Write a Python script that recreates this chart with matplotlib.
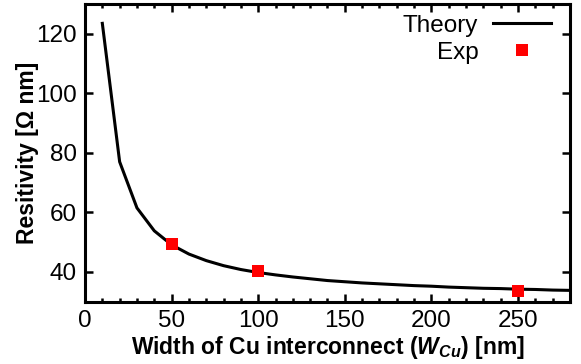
import matplotlib
matplotlib.use("Agg")
import matplotlib.pyplot as plt
from matplotlib.ticker import MultipleLocator

# Theory curve
theory_w = [10, 20, 30, 40, 50, 60, 70, 80, 90, 100, 110, 120, 130, 140, 150,
            160, 170, 180, 190, 200, 210, 220, 230, 240, 250, 260, 270, 280]
theory_rho = [123.5, 77.0, 61.5, 53.8, 49.1, 46.0, 43.8, 42.1, 40.8, 39.8, 39.0,
              38.3, 37.7, 37.1, 36.7, 36.3, 36.0, 35.7, 35.4, 35.2, 34.9, 34.7,
              34.5, 34.4, 34.2, 34.1, 33.9, 33.8]
# Experiment
exp_w = [50, 100, 250]
exp_rho = [49.5, 40.3, 33.6]

x_ticks = [0, 50, 100, 150, 200, 250]
y_ticks = [40, 60, 80, 100, 120]

plt.rcParams['font.family'] = ['Liberation Sans', 'DejaVu Sans']
plt.rcParams['mathtext.fontset'] = 'custom'
plt.rcParams['mathtext.it'] = 'Liberation Sans:bold:italic'
plt.rcParams['mathtext.rm'] = 'Liberation Sans:bold'
plt.rcParams['mathtext.bf'] = 'Liberation Sans:bold'

fig = plt.figure(figsize=(5.81, 3.64), dpi=100)
ax = fig.add_axes([0.1463, 0.1712, 0.981 - 0.1463, 0.989 - 0.1712])

ax.plot(theory_w, theory_rho, color='black', lw=2.2, label='Theory')
ax.plot(exp_w, exp_rho, linestyle='none', marker='s', color='#ff0000',
        markersize=9, markeredgewidth=0, label='Exp')

ax.set_xlim(0, 280)
ax.set_ylim(30, 130)
ax.set_xticks(x_ticks)
ax.set_yticks(y_ticks)
ax.xaxis.set_minor_locator(MultipleLocator(10))

for s in ax.spines.values():
    s.set_linewidth(2.2)
ax.tick_params(which='both', direction='in', top=True, right=True,
               labelsize=17.5, width=1.8, pad=6)
ax.tick_params(which='major', length=6)
ax.tick_params(which='minor', length=3)

ax.set_xlabel(r'Width of Cu interconnect ($W_{Cu}$) [nm]', fontsize=16.5,
              fontweight='bold', labelpad=1.5)
ax.set_ylabel('Resitivity [Ω nm]', fontsize=16.5, fontweight='bold', labelpad=-2)

leg = ax.legend(loc='upper right', frameon=False, markerfirst=False,
                fontsize=17.5, handlelength=2.4, handletextpad=0.6,
                labelspacing=0.2, borderaxespad=0.0,
                bbox_to_anchor=(1 - 9 / 485, 1 - 1 / 298))

fig.savefig('out.png', dpi=100)
